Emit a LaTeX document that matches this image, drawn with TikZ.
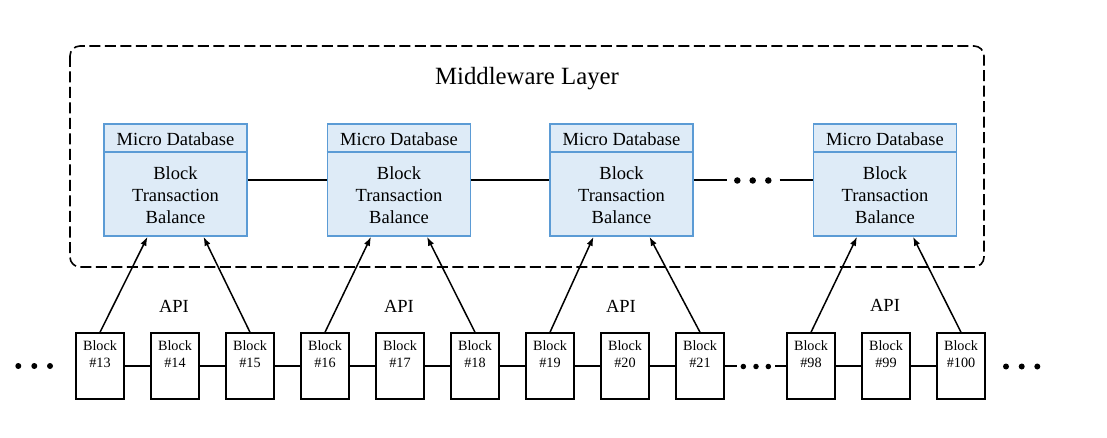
\documentclass[tikz,border=0pt]{standalone}
\usepackage{fontspec}
\setmainfont{Liberation Serif}
\usetikzlibrary{arrows.meta}
\definecolor{dbblue}{RGB}{91,155,213}
\definecolor{dbfill}{RGB}{222,235,247}
\tikzset{
  dbbox/.style={draw=dbblue,fill=dbfill,line width=1.6pt,minimum width=143pt,minimum height=112pt,inner sep=0pt},
  dbtxt/.style={inner sep=0pt,align=center,font=\fontsize{18.5}{22.3}\selectfont},
  blk/.style={draw=black,line width=1.5pt,minimum width=48pt,minimum height=66pt,inner sep=0pt},
  blktxt/.style={inner sep=0pt,align=center,font=\fontsize{14.2}{16.7}\selectfont},
  apitxt/.style={inner sep=0pt,font=\fontsize{18.5}{22}\selectfont},
  dot/.style={circle,fill=black,inner sep=0pt,minimum size=#1},
  dot/.default=5.5pt,
  conn/.style={line width=1.5pt},
  arr/.style={line width=1.5pt,-{Latex[length=9pt,width=6.5pt]}}
}
\begin{document}
\begin{tikzpicture}[x=1pt,y=-1pt]
\useasboundingbox (0,0) rectangle (1107,438);
% middleware layer
\draw[line width=1.6pt,dash pattern=on 11pt off 4.5pt,rounded corners=10pt] (70,46) rectangle (984,267);
\node[inner sep=0pt,font=\fontsize{24.8}{28}\selectfont] (mwl) at (527,78.5) {Middleware Layer};
% micro databases
\foreach \i/\x in {1/175.5,2/399,3/621.5,4/885}{
  \node[dbbox] (db\i) at (\x,180) {};
  \draw[draw=dbblue,line width=1.6pt] (db\i.west |- 0,152) -- (db\i.east |- 0,152);
  \node[dbtxt] (dbh\i) at (\x,139.5) {Micro Database};
  \node[dbtxt] (dbb\i) at (\x,195) {Block\\Transaction\\Balance};
}
\draw[conn] (db1) -- (db2);
\draw[conn] (db2) -- (db3);
\coordinate (ua) at (727,180);
\coordinate (ub) at (779.5,180);
\draw[conn] (db3.east |- ua) -- (ua);
\draw[conn] (ub) -- (db4.west |- ub);
\node[dot=6.5pt] (ud1) at (737.3,180.5) {};
\node[dot=6.5pt] (ud2) at (752.7,180.5) {};
\node[dot=6.5pt] (ud3) at (768.3,180.5) {};
% blocks
\foreach \n/\x in {13/100,14/175,15/250,16/325,17/400,18/475,19/550,20/625,21/700,98/811,99/886,100/961}{
  \node[blk] (b\n) at (\x,366) {};
  \node[blktxt] (bt\n) at (\x,354) {Block\\\#\n};
}
\foreach \a/\b in {13/14,14/15,15/16,16/17,17/18,18/19,19/20,20/21,98/99,99/100}{
  \draw[conn] (b\a) -- (b\b);
}
\coordinate (la) at (737,366);
\coordinate (lb) at (775,366);
\draw[conn] (b21.east) -- (la);
\draw[conn] (lb) -- (b98.west);
\node[dot=5.5pt] (ld1) at (743.3,366.5) {};
\node[dot=5.5pt] (ld2) at (756,366.5) {};
\node[dot=5.5pt] (ld3) at (768.3,366.5) {};
% outer dots
\node[dot=6pt] (lo1) at (18.3,366) {};
\node[dot=6pt] (lo2) at (34.3,366) {};
\node[dot=6pt] (lo3) at (50,366) {};
\node[dot=6pt] (ro1) at (1006,366.5) {};
\node[dot=6pt] (ro2) at (1021.7,366.5) {};
\node[dot=6pt] (ro3) at (1037.3,366.5) {};
% arrows
\draw[arr] (b13.north) -- ([xshift=-28pt]db1.south);
\draw[arr] (b15.north) -- ([xshift=28pt]db1.south);
\draw[arr] (b16.north) -- ([xshift=-28pt]db2.south);
\draw[arr] (b18.north) -- ([xshift=28pt]db2.south);
\draw[arr] (b19.north) -- ([xshift=-28pt]db3.south);
\draw[arr] (b21.north) -- ([xshift=28pt]db3.south);
\draw[arr] (b98.north) -- ([xshift=-28pt]db4.south);
\draw[arr] (b100.north) -- ([xshift=28pt]db4.south);
% API labels
\node[apitxt] (api1) at (174,306) {API};
\node[apitxt] (api2) at (399,306) {API};
\node[apitxt] (api3) at (621,306) {API};
\node[apitxt] (api4) at (885,305) {API};
\end{tikzpicture}
\end{document}
